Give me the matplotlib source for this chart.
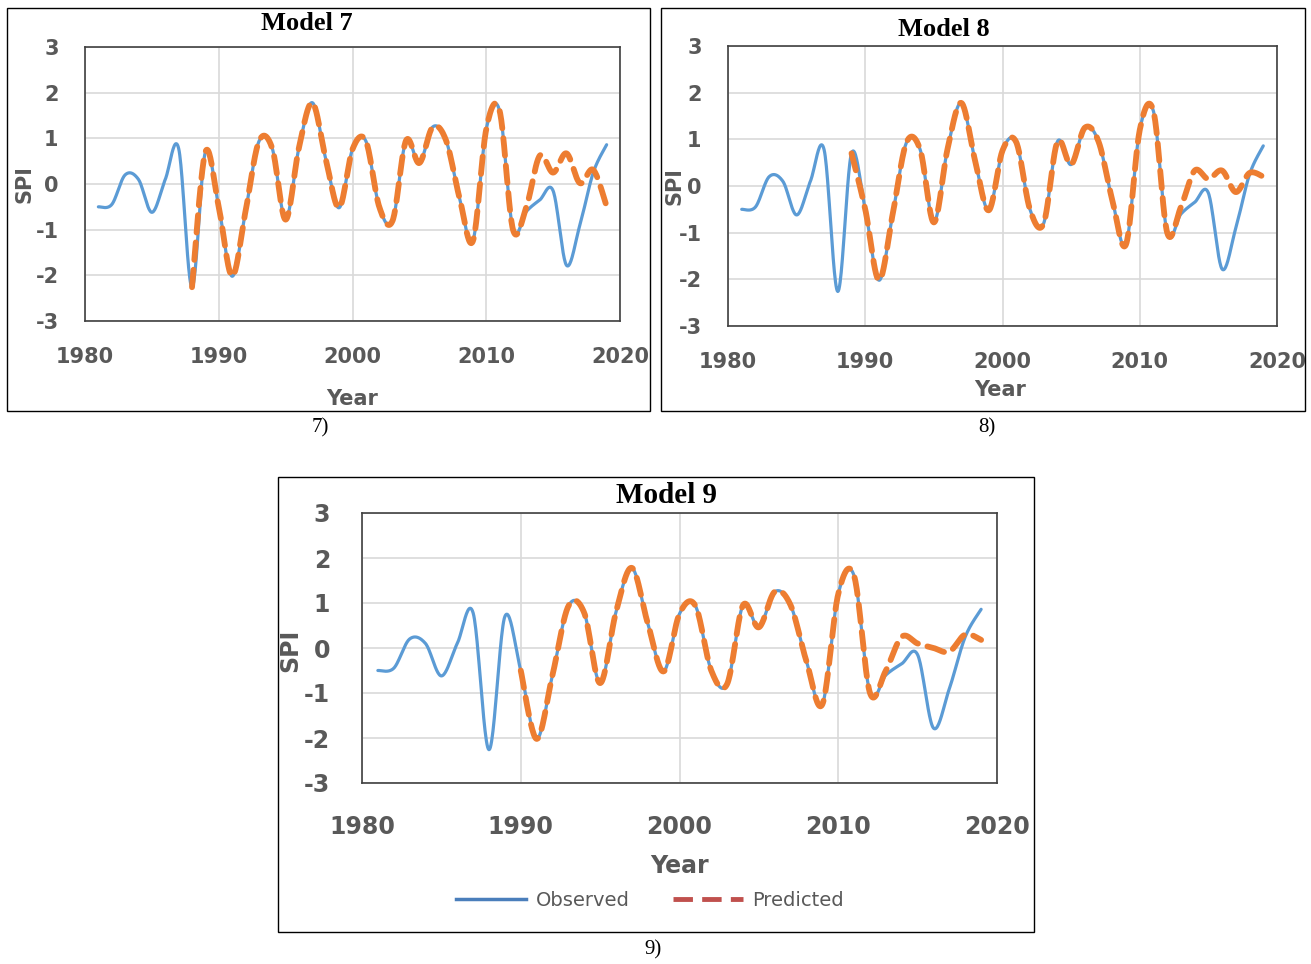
import numpy as np
import matplotlib
matplotlib.use("Agg")
import matplotlib.pyplot as plt
from matplotlib.patches import Rectangle
from matplotlib.lines import Line2D

plt.rcParams["axes.unicode_minus"] = False

# ---------------- data ----------------
years = list(range(1981, 2020))
observed = [-0.50, -0.45, 0.20, 0.10, -0.62, 0.10, 0.78, -2.26, 0.70, -0.50,
            -2.02, -0.60, 0.93, 0.78, -0.78, 0.80, 1.78, 0.55, -0.52, 0.76,
            0.94, -0.50, -0.80, 0.95, 0.46, 1.25, 0.95, -0.30, -1.25, 1.20,
            1.60, -1.00, -0.60, -0.35, -0.15, -1.78, -0.90, 0.25, 0.86]

pred7_years = list(range(1988, 2020))
pred7 = [-2.26, 0.70, -0.50, -2.02, -0.60, 0.93, 0.78, -0.78, 0.80, 1.78,
         0.55, -0.52, 0.76, 0.94, -0.50, -0.80, 0.95, 0.46, 1.25, 0.95,
         -0.30, -1.25, 1.20, 1.60, -1.00, -0.50, 0.62, 0.25, 0.67, 0.02,
         0.31, -0.49]

pred8_years = list(range(1989, 2020))
pred8 = [0.70, -0.50, -2.02, -0.60, 0.93, 0.78, -0.78, 0.80, 1.78,
         0.55, -0.52, 0.76, 0.94, -0.50, -0.80, 0.95, 0.46, 1.25, 0.95,
         -0.30, -1.25, 1.20, 1.60, -1.00, -0.45, 0.33, 0.15, 0.33, -0.13,
         0.28, 0.20]

pred9_years = list(range(1990, 2020))
pred9 = [-0.50, -2.02, -0.60, 0.93, 0.78, -0.78, 0.80, 1.78,
         0.55, -0.52, 0.76, 0.94, -0.50, -0.80, 0.95, 0.46, 1.25, 0.95,
         -0.30, -1.25, 1.20, 1.60, -1.00, -0.50, 0.25, 0.10, 0.00, -0.08,
         0.30, 0.18]

x_ticks = [1980, 1990, 2000, 2010, 2020]
y_ticks = [-3, -2, -1, 0, 1, 2, 3]

# ---------------- style ----------------
W, H = 1311, 964
BLUE = "#5B9BD5"
ORANGE = "#ED7D31"
GRAY = "#595959"
GRID = "#D9D9D9"


def smooth(x, y, n=24):
    """Catmull-Rom smoothing (like Excel smoothed lines) for drawing."""
    x = np.asarray(x, float)
    y = np.asarray(y, float)
    P = np.column_stack([x, y])
    P = np.vstack([P[0], P, P[-1]])
    t = np.linspace(0, 1, n, endpoint=False)
    out = []
    for i in range(1, len(P) - 2):
        p0, p1, p2, p3 = P[i - 1], P[i], P[i + 1], P[i + 2]
        t2, t3 = t * t, t * t * t
        pts = 0.5 * ((2 * p1)[None, :]
                     + (-p0 + p2)[None, :] * t[:, None]
                     + (2 * p0 - 5 * p1 + 4 * p2 - p3)[None, :] * t2[:, None]
                     + (-p0 + 3 * p1 - 3 * p2 + p3)[None, :] * t3[:, None])
        out.append(pts)
    out.append(P[-2][None, :])
    out = np.vstack(out)
    return out[:, 0], out[:, 1]


def fx(x):
    return x / W


def fy(y):
    return 1 - y / H


fig = plt.figure(figsize=(W / 100, H / 100), dpi=100)
fig.patch.set_facecolor("white")


def panel(rect, pyears, pvals, title, title_xy, tsize, ylab_xy, year_xy,
          tick_size, pad, year_size, label_txt, label_xy, box):
    bx0, by0, bx1, by1 = box
    fig.add_artist(Rectangle((fx(bx0), fy(by1)), fx(bx1) - fx(bx0),
                             fy(by0) - fy(by1), transform=fig.transFigure,
                             fill=False, edgecolor="black", lw=1.0))
    x0, y0, x1, y1 = rect
    ax = fig.add_axes([fx(x0), fy(y1), fx(x1) - fx(x0), fy(y0) - fy(y1)])
    ax.set_xlim(1980, 2020)
    ax.set_ylim(-3, 3)
    ax.set_xticks(x_ticks)
    ax.set_yticks(y_ticks)
    ax.grid(True, color=GRID, lw=1.2)
    ax.set_axisbelow(True)
    for s in ax.spines.values():
        s.set_color("#404040")
        s.set_linewidth(1.2)
    ax.tick_params(length=0, pad=pad, labelsize=tick_size, labelcolor=GRAY)
    for lab in ax.get_xticklabels() + ax.get_yticklabels():
        lab.set_fontweight("bold")
    sx, sy = smooth(years, observed)
    ax.plot(sx, sy, color=BLUE, lw=2.3, solid_capstyle="round", zorder=3)
    px_, py_ = smooth(pyears, pvals)
    ax.plot(px_, py_, color=ORANGE, lw=4.2, dashes=(3.0, 1.7),
            dash_capstyle="round", zorder=4)
    fig.text(fx(title_xy[0]), fy(title_xy[1]), title, ha="center", va="center",
             fontsize=tsize, fontweight="bold", family="Liberation Serif")
    fig.text(fx(ylab_xy[0]), fy(ylab_xy[1]), "SPI", ha="center", va="center",
             rotation=90, fontsize=year_size, fontweight="bold", color=GRAY)
    fig.text(fx(year_xy[0]), fy(year_xy[1]), "Year", ha="center", va="center",
             fontsize=year_size, fontweight="bold", color=GRAY)
    fig.text(fx(label_xy[0]), fy(label_xy[1]), label_txt, ha="center",
             va="center", fontsize=15, family="Liberation Serif")
    return ax


panel((85, 47, 620, 321), pred7_years, pred7, "Model 7", (307, 23), 19,
      (25, 184), (352, 399), 15, 19, 15, "7)", (320, 428), (7, 8, 650, 411))
panel((728, 46, 1277, 326), pred8_years, pred8, "Model 8", (944, 30), 19,
      (675, 186), (1000, 390), 15, 19, 15, "8)", (987, 428), (661, 8, 1305, 411))
panel((362, 513, 997, 783), pred9_years, pred9, "Model 9", (667, 496), 21,
      (290, 650), (680, 866), 17, 23, 17, "9)", (653, 950),
      (278, 477, 1034, 932))

handles = [Line2D([0], [0], color="#4A7EBB", lw=2.5),
           Line2D([0], [0], color="#C0504D", lw=3.5, dashes=(4.0, 1.9))]
fig.legend(handles, ["Observed", "Predicted"], loc="center",
           bbox_to_anchor=(fx(650), fy(900)), ncol=2, frameon=False,
           fontsize=14, handlelength=3.6, columnspacing=2.2,
           handletextpad=0.5, labelcolor=GRAY)

fig.savefig("out.png", dpi=100, facecolor="white")
